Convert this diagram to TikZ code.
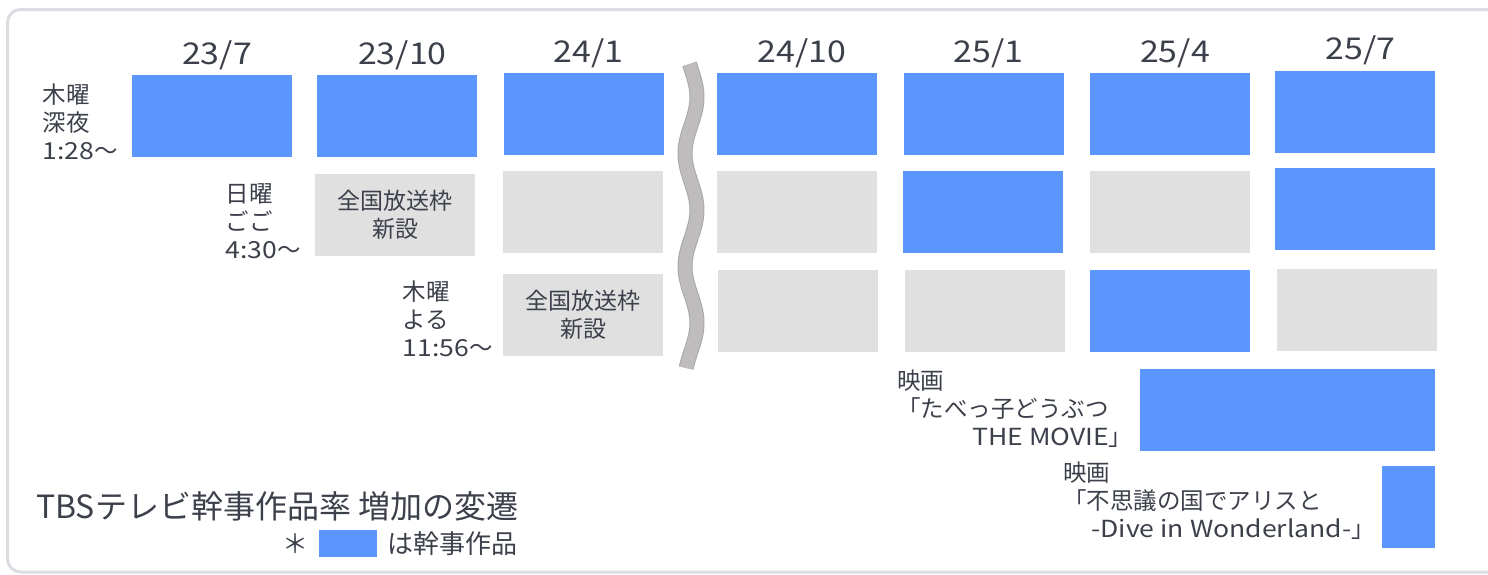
\documentclass[tikz,border=0pt]{standalone}
\usepackage{fontspec}
\setmainfont{Noto Sans CJK JP}
\newfontfamily\latinwide{Noto Sans CJK JP}[FakeStretch=1.13]
\usetikzlibrary{positioning}
\definecolor{mainblue}{HTML}{5A96FE}
\definecolor{slotgray}{HTML}{E0E0E0}
\definecolor{inkgray}{HTML}{3C404B}
\definecolor{framegray}{HTML}{DCDDE3}
\definecolor{wavegray}{HTML}{BEBCBD}
\definecolor{waveedge}{HTML}{A9A7A8}

\begin{document}
\begin{tikzpicture}[x=1pt, y=-1pt, node distance=26pt,
  every node/.style={text=inkgray, inner sep=0pt},
  onair/.style={fill=mainblue, minimum width=160pt, minimum height=82pt},
  newslot/.style={fill=slotgray, minimum width=160pt, minimum height=82pt, align=center, font=\fontsize{23}{28}\selectfont},
  period/.style={font=\latinwide\fontsize{30}{36}\selectfont, xshift=5pt},
  slotlabel/.style={align=left, font=\fontsize{23.5}{28}\selectfont}]
  \useasboundingbox (0,0) rectangle (1488,574);

  % Frame
  \draw[framegray, line width=3pt, rounded corners=13pt] (7.5,9.5) rectangle (1520,572);

  % Thursday late night
  \node (thu1) [onair] at (212,116) {};
  \node (thu2) [onair, right=25pt of thu1] {};
  \node (thu3) [onair, right=26pt of thu2, yshift=2pt] {};
  \node (thu4) [onair, right=53pt of thu3] {};
  \node (thu5) [onair, right=of thu4] {};
  \node (thu6) [onair, right=of thu5] {};
  \node (thu7) [onair, right=25pt of thu6, yshift=2.5pt] {};

  % Sunday afternoon
  \node (sun2) [newslot] at (395,215) {全国放送枠\\新設};
  \node (sun3) [newslot, right=28pt of sun2, yshift=3pt] {};
  \node (sun4) [newslot, right=53pt of sun3] {};
  \node (sun5) [onair, right=of sun4] {};
  \node (sun6) [newslot, right=of sun5] {};
  \node (sun7) [onair, right=25pt of sun6, yshift=3pt] {};

  % Thursday night
  \node (nig3) [newslot] at (583,314.5) {全国放送枠\\新設};
  \node (nig4) [newslot, right=55pt of nig3, yshift=4pt] {};
  \node (nig5) [newslot, right=of nig4] {};
  \node (nig6) [onair, right=25pt of nig5] {};
  \node (nig7) [newslot, right=of nig6, yshift=1pt] {};

  % Movies
  \node (film1) [onair, minimum width=295pt] at (1287.5,410) {};
  \node (film2) [onair, minimum width=53pt] at (1408.5,507) {};

  % Periods
  \node (p1) [period, above=5pt of thu1] {23/7};
  \node (p2) [period, above=5pt of thu2] {23/10};
  \node (p3) [period, above=5pt of thu3] {24/1};
  \node (p4) [period, above=5pt of thu4] {24/10};
  \node (p5) [period, above=5pt of thu5] {25/1};
  \node (p6) [period, above=5pt of thu6] {25/4};
  \node (p7) [period, above=5pt of thu7] {25/7};

  % Slot labels
  \node (thulab) [slotlabel, left=14pt of thu1, yshift=-6pt] {木曜\\深夜\\{\latinwide 1:28}〜};
  \node (sunlab) [slotlabel, left=14pt of sun2, yshift=-6pt] {日曜\\ごご\\{\latinwide 4:30}〜};
  \node (niglab) [slotlabel, left=10pt of nig3, yshift=-4pt] {木曜\\よる\\{\latinwide 11:56}〜};
  \node (film1lab) [slotlabel, anchor=north west] at (897,370) {映画\\「たべっ子どうぶつ\\\hspace*{3.2em}{\latinwide THE MOVIE}」};
  \node (film2lab) [slotlabel, anchor=north west] at (1063,462) {映画\\「不思議の国でアリスと\\\hspace*{1.2em}{\latinwide -Dive in Wonderland-}」};

  % Break
  \draw[waveedge, line width=15pt] plot[domain=64:368, samples=50, smooth] ({691+6*cos((\x-210)*3.186)}, \x);
  \draw[wavegray, line width=13pt] plot[domain=64:368, samples=50, smooth] ({691+6*cos((\x-210)*3.186)}, \x);

  % Title and key
  \node (title) [anchor=base west, font=\fontsize{32}{38}\selectfont] at (36,518) {TBSテレビ幹事作品率 増加の変遷};
  \node (key) [onair, minimum width=58pt, minimum height=27pt] at (348,543.5) {};
  \node (star) [left=10pt of key, font=\fontsize{26}{30}\selectfont] {＊};
  \node (keytext) [right=10pt of key, font=\fontsize{26}{30}\selectfont] {は幹事作品};
\end{tikzpicture}
\end{document}
